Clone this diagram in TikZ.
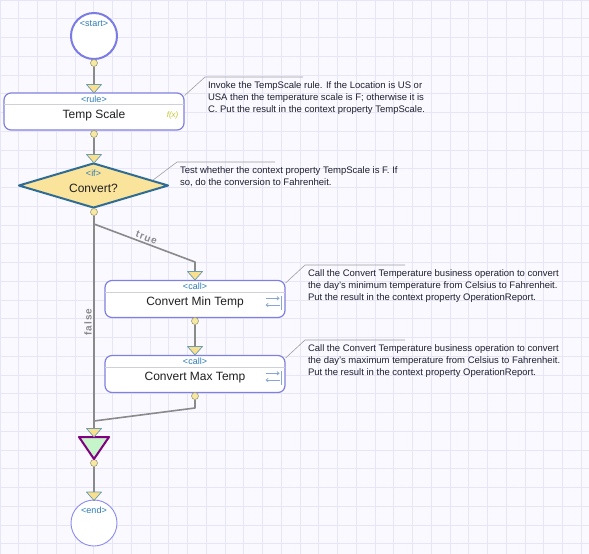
\documentclass[tikz,border=0pt]{standalone}
\usepackage{fontspec}
\setmainfont{Liberation Sans}
\usetikzlibrary{arrows.meta, shapes.geometric}

\definecolor{bgcol}{HTML}{F9F9FF}
\definecolor{gridcol}{HTML}{E6E6F8}
\definecolor{taskline}{HTML}{8080E0}
\definecolor{startline}{HTML}{7B7BE6}
\definecolor{endline}{HTML}{8C8CF0}
\definecolor{ifline}{HTML}{2F6C94}
\definecolor{iffill}{HTML}{FAE39A}
\definecolor{flowgrey}{HTML}{8A8A8A}
\definecolor{linkgrey}{HTML}{A0A0A0}
\definecolor{dotline}{HTML}{9C9C78}
\definecolor{dotfill}{HTML}{F8E8A2}
\definecolor{triline}{HTML}{6C9CB2}
\definecolor{trifill}{HTML}{F8E08E}
\definecolor{joinline}{HTML}{800080}
\definecolor{joinfill}{HTML}{C6F5CA}
\definecolor{hdrblue}{HTML}{2E7BB4}
\definecolor{titlegrey}{HTML}{202020}
\definecolor{notetext}{HTML}{202030}
\definecolor{fxcol}{HTML}{C4C42E}
\definecolor{iconcol}{HTML}{8AA6D0}
\definecolor{sepcol}{HTML}{D0D0D8}

\begin{document}
\begin{tikzpicture}[
        x = 1pt, y = -1pt, line join = round,
        flow/.style = {draw = flowgrey, line width = 1.6pt},
        link/.style = {draw = linkgrey, line width = 0.6pt},
        dot/.style = {circle, draw = dotline, fill = dotfill, line width = 0.6pt,
            minimum size = 7pt, inner sep = 0pt},
        intri/.style = {draw = triline, fill = trifill, line width = 0.7pt},
        hdr/.style = {anchor = north, inner sep = 0pt, text = hdrblue,
            text height = 6.5pt, text depth = 1.5pt, font = \fontsize{9}{10}\selectfont},
        task/.style = {draw = taskline, line width = 1.2pt, fill = white, rounded corners = 7pt,
            minimum width = 180pt, minimum height = 37pt, inner sep = 0pt,
            text height = 13.6pt, text depth = 0pt, text = titlegrey, font = \fontsize{12}{14}\selectfont},
        decision/.style = {diamond, aspect = 3.33, draw = ifline, line width = 2pt, fill = iffill,
            minimum width = 150pt, minimum height = 45pt, inner sep = 0pt,
            text height = 13.6pt, text depth = 0pt, text = titlegrey, font = \fontsize{12}{14}\selectfont},
        terminal/.style = {circle, fill = white, minimum size = 46pt, inner sep = 0pt},
        note/.style = {anchor = north west, align = left, inner xsep = 3pt, inner ysep = 5pt,
            outer sep = 0pt, text = notetext, font = \fontsize{9.5}{12}\selectfont},
        branch/.style = {text = flowgrey, inner sep = 1.5pt,
            font = \bfseries\fontsize{10}{11}\selectfont\addfontfeature{LetterSpace = 10}},
        icon/.style = {draw = iconcol, line width = 0.8pt}
    ]
    \useasboundingbox (0,0) rectangle (589,554);
    \fill[bgcol] (0,0) rectangle (589,554);
    \foreach \k in {0,...,31} {
        \draw[gridcol, line width = 0.6pt] (\k*18.75,0) -- (\k*18.75,554);
        \draw[gridcol, line width = 0.6pt] (0,\k*18.75) -- (589,\k*18.75);
    }

    \node[terminal, draw = startline, line width = 2pt,
        label = {[hdr, yshift = -8pt]north:\textless start\textgreater}] (start) at (94,36) {};
    \node[dot] (d1) at (94,63) {};
    \coordinate (in1) at (94,93);
    \node[task, label = {[hdr, yshift = -3pt]north:\textless rule\textgreater}] (rule) at (94,111.5) {Temp Scale};
    \node[text = fxcol, inner sep = 0pt, font = \itshape\fontsize{8}{9}\selectfont]
        (rulefx) at ([xshift = -12pt, yshift = -3.5pt]rule.east) {f(x)};
    \node[dot] (d2) at (94,134) {};
    \coordinate (in2) at (94,163);
    \node[decision, label = {[hdr, yshift = -7.5pt]north:\textless if\textgreater}] (conv) at (93.5,185.5) {Convert?};
    \node[dot] (d3) at (94,212) {};
    \coordinate (split) at (94,224);
    \coordinate (bend1) at (195,262);
    \coordinate (in3) at (195,280);
    \node[task, label = {[hdr, yshift = -3pt]north:\textless call\textgreater}] (minT) at (195,299) {Convert Min Temp};
    \node[dot] (d4) at (195,321) {};
    \coordinate (in4) at (195,355);
    \node[task, label = {[hdr, yshift = -3pt]north:\textless call\textgreater}] (maxT) at (195,374) {Convert Max Temp};
    \node[dot] (d5) at (195,396) {};
    \coordinate (bend2) at (195,408);
    \coordinate (merge) at (94,421);
    \coordinate (in5) at (94,437);
    \node[dot] (d6) at (94,463) {};
    \coordinate (in6) at (94,500.5);
    \node[terminal, draw = endline, line width = 0.9pt,
        label = {[hdr, yshift = -7.5pt]north:\textless end\textgreater}] (end) at (94,523) {};

    \foreach \b in {rule, minT, maxT}
        \draw[sepcol, line width = 0.6pt] ([xshift = 1pt, yshift = -12pt]\b.north west) -- ([xshift = -1pt, yshift = -12pt]\b.north east);
    \foreach \b in {minT, maxT} {
        \draw[icon, -{Straight Barb[length = 2pt, width = 3.5pt]}] ([xshift = -20pt, yshift = 0.7pt]\b.east) -- ++(14,0);
        \draw[icon] ([xshift = -4.5pt, yshift = 3pt]\b.east) -- ++(0,14);
        \draw[icon, -{Straight Barb[length = 2pt, width = 3.5pt]}] ([xshift = -6pt, yshift = -6pt]\b.east) -- ++(-14,0);
    }

    \draw[flow] (d1) -- (in1);
    \draw[flow] (d2) -- (in2);
    \draw[flow] (d3) -- node[branch, rotate = 90, above, pos = 0.48] {false} (in5);
    \draw[flow] (split) -- node[branch, sloped, above] {true} (bend1) -- (in3);
    \draw[flow] (d4) -- (in4);
    \draw[flow] (d5) -- (bend2) -- (merge);
    \draw[flow] (d6) -- (in6);
    \filldraw[draw = joinline, fill = joinfill, line width = 2pt] (in5) ++(-15,0) -- ++(30,0) -- ++(-15,22) -- cycle;
    \foreach \p in {in1, in2, in3, in4, in5, in6}
        \filldraw[intri] (\p) -- ++(-7.5,-8.5) -- ++(15,0) -- cycle;

    \node[note] (n1) at (205,77) {Invoke the TempScale rule. If the Location is US or\\
        USA then the temperature scale is F; otherwise it is\\
        C. Put the result in the context property TempScale.};
    \node[note] (n2) at (177,162) {Test whether the context property TempScale is F. If\\
        so, do the conversion to Fahrenheit.};
    \node[note] (n3) at (305,265) {Call the Convert Temperature business operation to convert\\
        the day's minimum temperature from Celsius to Fahrenheit.\\
        Put the result in the context property OperationReport.};
    \node[note] (n4) at (305,340) {Call the Convert Temperature business operation to convert\\
        the day's maximum temperature from Celsius to Fahrenheit.\\
        Put the result in the context property OperationReport.};
    \draw[link] (rule.10) -- (n1.north west) -- ++(98,0);
    \draw[link] (conv.5) -- (n2.north west) -- ++(98,0);
    \draw[link] (minT.10) -- (n3.north west) -- ++(100,0);
    \draw[link] (maxT.10) -- (n4.north west) -- ++(100,0);
\end{tikzpicture}
\end{document}
